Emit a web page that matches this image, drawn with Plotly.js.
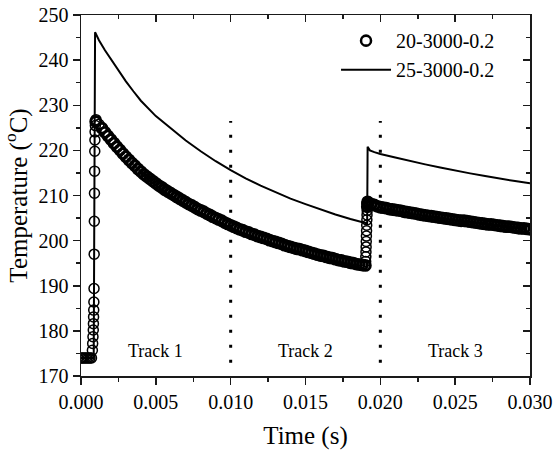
<!DOCTYPE html>
<html>
<head>
<meta charset="utf-8">
<script src="https://cdn.plot.ly/plotly-3.0.1.min.js"></script>
<style>html,body{margin:0;padding:0;background:#fff;}#chart{width:555px;height:450px;}</style>
</head>
<body>
<div id="chart"></div>
<script>
// ---- Series "20-3000-0.2" (open circles) ----
var circleTime = [
  0,0.0001,0.0002,0.0003,0.0004,0.0005,0.0006,0.0007,
  0.00076,0.00078,0.0008,0.00082,0.00083,0.00084,0.00085,0.00086,0.00087,0.00088,0.00089,0.0009,0.00091,0.00092,0.00093,0.00094,0.00096,0.00098,
  0.0010,0.0012,0.0014,0.0016,0.0018,0.0020,0.0022,0.0024,0.0026,0.0028,0.0030,0.0032,0.0034,0.0036,0.0038,0.0040,0.0042,0.0044,0.0046,0.0048,
  0.0050,0.0052,0.0054,0.0056,0.0058,0.0060,0.0062,0.0064,0.0066,0.0068,0.0070,0.0072,0.0074,0.0076,0.0078,0.0080,0.0082,0.0084,0.0086,0.0088,
  0.0090,0.0092,0.0094,0.0096,0.0098,0.0100,0.0102,0.0104,0.0106,0.0108,0.0110,0.0112,0.0114,0.0116,0.0118,0.0120,0.0122,0.0124,0.0126,0.0128,
  0.0130,0.0132,0.0134,0.0136,0.0138,0.0140,0.0142,0.0144,0.0146,0.0148,0.0150,0.0152,0.0154,0.0156,0.0158,0.0160,0.0162,0.0164,0.0166,0.0168,
  0.0170,0.0172,0.0174,0.0176,0.0178,0.0180,0.0182,0.0184,0.0186,0.0188,0.0190,
  0.01902,0.01903,0.01904,0.01905,0.01906,0.01907,0.01908,0.01909,0.0191,0.01911,0.01912,0.01913,0.01914,0.01915,
  0.0192,0.0194,0.0196,0.0198,0.0200,0.0202,0.0204,0.0206,0.0208,0.0210,0.0212,0.0214,0.0216,0.0218,0.0220,0.0222,0.0224,0.0226,0.0228,0.0230,
  0.0232,0.0234,0.0236,0.0238,0.0240,0.0242,0.0244,0.0246,0.0248,0.0250,0.0252,0.0254,0.0256,0.0258,0.0260,0.0262,0.0264,0.0266,0.0268,0.0270,
  0.0272,0.0274,0.0276,0.0278,0.0280,0.0282,0.0284,0.0286,0.0288,0.0290,0.0292,0.0294,0.0296,0.0298,0.0300
];
var circleTemp = [
  174,174,174,174,174,174,174,174,
  175.7,177.2,178.7,180.2,181.6,183.1,184.6,186.4,189.4,197.0,204.3,210.5,215.4,219.8,222.3,224.1,225.5,226.4,
  226.8,225.8,224.9,224.0,223.2,222.4,221.6,220.8,220.1,219.3,218.6,217.9,217.2,216.6,215.9,215.3,214.7,214.2,213.7,213.2,
  212.7,212.2,211.8,211.3,210.9,210.5,210.1,209.7,209.3,208.9,208.5,208.1,207.8,207.4,207.0,206.7,206.4,206.0,205.7,205.3,
  205.0,204.7,204.4,204.0,203.7,203.4,203.1,202.8,202.5,202.3,202.0,201.8,201.5,201.3,201.0,200.8,200.6,200.4,200.1,199.9,
  199.7,199.5,199.3,199.0,198.8,198.6,198.4,198.2,198.1,197.9,197.7,197.5,197.3,197.1,196.9,196.7,196.6,196.4,196.2,196.1,
  195.9,195.7,195.6,195.4,195.3,195.1,195.0,194.8,194.7,194.6,194.5,
  195.4,196.4,197.5,198.6,199.8,201.0,202.2,203.4,204.6,205.7,206.7,207.5,208.1,208.6,
  208.4,208.1,207.9,207.6,207.4,207.3,207.2,207.0,206.9,206.8,206.7,206.6,206.4,206.3,206.2,206.1,206.0,205.8,205.7,205.6,
  205.5,205.4,205.3,205.2,205.1,205.0,204.9,204.8,204.7,204.6,204.5,204.4,204.4,204.3,204.2,204.1,204.0,203.9,203.8,203.7,
  203.6,203.6,203.5,203.4,203.3,203.2,203.1,203.1,203.0,202.9,202.8,202.7,202.7,202.6,202.5
];

// ---- Series "25-3000-0.2" (solid line) ----
var lineTime = [0,0.00085,0.00094,0.0012,0.0016,0.0020,0.0025,0.0030,0.0035,0.0040,0.0050,0.0060,0.0070,0.0080,0.0090,
  0.0100,0.0110,0.0120,0.0130,0.0140,0.0150,0.0160,0.0170,0.0180,0.0190,0.01912,0.01915,0.0193,0.0196,0.0200,
  0.0210,0.0220,0.0230,0.0240,0.0250,0.0260,0.0270,0.0280,0.0290,0.0300];
var lineTemp = [174,174,246.2,244.4,242.2,240.2,237.7,235.3,233.1,231.0,227.6,224.8,222.2,219.8,217.6,
  215.6,213.8,212.2,210.7,209.3,208.1,206.9,205.8,204.8,203.9,203.8,220.8,220.0,219.6,219.2,
  218.4,217.6,216.9,216.2,215.5,214.9,214.3,213.7,213.2,212.7];

// ---- Track dividers and labels ----
var dividerTimes = [0.010, 0.020];
var dividerTempRange = [172.95, 226.5];
var trackLabels = ['Track 1', 'Track 2', 'Track 3'];
var trackLabelTimes = [0.005, 0.015, 0.025];
var trackLabelTemp = 175.5;

// ---- Axes ----
var xRange = [0, 0.030];
var yRange = [170, 250];
var seriesNames = ['20-3000-0.2', '25-3000-0.2'];

var FONT = '"Liberation Serif", "Times New Roman", serif';
var AX = '#1a1a1a';

// Circles packed densely along the slow decays merge into a solid band (as in the reference);
// thicker ring strokes there emulate that, thin rings elsewhere.
var circleStroke = circleTemp.map(function (v, i) {
  var dPrev = i > 0 ? Math.abs(v - circleTemp[i - 1]) : 0;
  var dNext = i < circleTemp.length - 1 ? Math.abs(circleTemp[i + 1] - v) : 0;
  var d = Math.max(dPrev, dNext);
  return (d > 0 && d < 1.0) ? 2.8 : 1.5;
});

var traces = [];
dividerTimes.forEach(function (t) {
  traces.push({
    x: [t, t], y: dividerTempRange, mode: 'lines', showlegend: false, hoverinfo: 'skip',
    line: {color: '#000', width: 3, dash: '3px,12px'}
  });
});
traces.push({
  x: circleTime, y: circleTemp, name: seriesNames[0], mode: 'markers', type: 'scatter',
  marker: {symbol: 'circle-open', size: 10, color: '#000', line: {width: circleStroke, color: '#000'}}
});
traces.push({
  x: lineTime, y: lineTemp, name: seriesNames[1], mode: 'lines', type: 'scatter',
  line: {color: '#000', width: 2}
});
traces.push({x: [], y: [], xaxis: 'x2', yaxis: 'y2', showlegend: false, hoverinfo: 'skip', mode: 'markers'});

var annotations = trackLabels.map(function (txt, i) {
  return {x: trackLabelTimes[i], y: trackLabelTemp, xref: 'x', yref: 'y', text: txt, showarrow: false,
    font: {family: FONT, size: 18, color: '#000'}};
});

var commonAxis = {
  showgrid: false, zeroline: false, showline: true, linecolor: AX, linewidth: 1.5,
  tickcolor: AX, tickwidth: 1.5, ticklen: 7,
  tickfont: {family: FONT, size: 20, color: '#000'}
};

var layout = {
  width: 555, height: 450,
  margin: {l: 81, r: 25, t: 15, b: 74, pad: 0},
  paper_bgcolor: '#fff', plot_bgcolor: '#fff',
  font: {family: FONT, color: '#000'},
  showlegend: true,
  legend: {x: 0.568, y: 0.983, xanchor: 'left', yanchor: 'top', bgcolor: 'rgba(0,0,0,0)',
    itemwidth: 50, itemsizing: 'trace', font: {family: FONT, size: 20, color: '#000'}, tracegroupgap: 0},
  xaxis: Object.assign({}, commonAxis, {
    range: xRange, tick0: 0, dtick: 0.005, tickformat: '.3f', ticks: 'outside',
    minor: {dtick: 0.0025, ticklen: 4, ticks: 'outside', tickcolor: AX, tickwidth: 1.5},
    title: {text: 'Time (s)', font: {family: FONT, size: 25, color: '#000'}, standoff: 15}
  }),
  yaxis: Object.assign({}, commonAxis, {
    range: yRange, tick0: 170, dtick: 10, ticks: 'outside',
    minor: {dtick: 5, ticklen: 4, ticks: 'outside', tickcolor: AX, tickwidth: 1.5},
    title: {text: 'Temperature (<sup>o</sup>C)', font: {family: FONT, size: 25, color: '#000'}, standoff: 5}
  }),
  xaxis2: Object.assign({}, commonAxis, {
    overlaying: 'x', side: 'top', anchor: 'y2', range: xRange, tick0: 0, dtick: 0.005, ticks: 'inside',
    showticklabels: false, minor: {dtick: 0.0025, ticklen: 4, ticks: 'inside', tickcolor: AX, tickwidth: 1.5}
  }),
  yaxis2: Object.assign({}, commonAxis, {
    overlaying: 'y', side: 'right', anchor: 'x2', range: yRange, tick0: 170, dtick: 10, ticks: 'inside',
    showticklabels: false, minor: {dtick: 5, ticklen: 4, ticks: 'inside', tickcolor: AX, tickwidth: 1.5}
  }),
  annotations: annotations
};

Plotly.newPlot('chart', traces, layout, {displayModeBar: false, staticPlot: true});
</script>
</body>
</html>
